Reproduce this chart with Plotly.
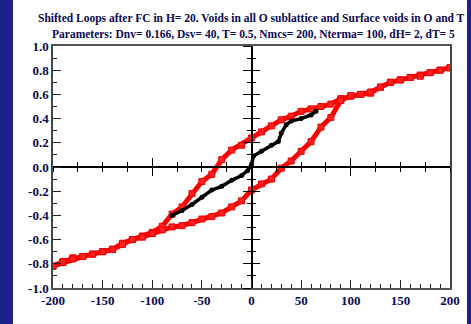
import plotly.graph_objects as go

# Red loop, descending branch: field swept from +200 down to -200
h_down = [200, 190, 180, 170, 160, 150, 140, 130, 120, 110, 100, 90, 80, 70, 60, 50,
          40, 30, 20, 10, 0, -10, -20, -30, -40, -50, -60, -70, -80, -90, -100,
          -110, -120, -130, -140, -150, -160, -170, -180, -190, -200]
m_down = [0.82, 0.80, 0.78, 0.76, 0.74, 0.72, 0.70, 0.66, 0.61, 0.60, 0.585, 0.565, 0.52,
          0.50, 0.48, 0.46, 0.42, 0.39, 0.34, 0.29, 0.24, 0.18, 0.14, 0.06, -0.06, -0.12,
          -0.22, -0.33, -0.39, -0.49, -0.54, -0.57, -0.60, -0.63, -0.68, -0.70, -0.72,
          -0.74, -0.75, -0.78, -0.82]

# Red loop, ascending branch: field swept from -200 up to +200
h_up = [-200, -190, -180, -170, -160, -150, -140, -130, -120, -110, -100, -90, -80, -70,
        -60, -50, -40, -30, -20, -10, 0, 10, 20, 30, 40, 50, 60, 70, 80, 90, 100, 110,
        120, 130, 140, 150, 160, 170, 180, 190, 200]
m_up = [-0.82, -0.79, -0.76, -0.74, -0.72, -0.70, -0.68, -0.64, -0.60, -0.58, -0.55,
        -0.52, -0.495, -0.485, -0.46, -0.43, -0.41, -0.38, -0.33, -0.28, -0.19, -0.14,
        -0.10, -0.01, 0.05, 0.13, 0.21, 0.33, 0.41, 0.55, 0.59, 0.60, 0.62, 0.66, 0.70,
        0.72, 0.74, 0.75, 0.78, 0.80, 0.82]

# Black curve
h_black = [-80, -70, -60, -50, -40, -30, -20, -10, -4, 0, 2, 10, 20, 27, 30, 35, 40, 50, 60, 65]
m_black = [-0.40, -0.36, -0.31, -0.25, -0.19, -0.16, -0.11, -0.07, -0.03, 0.02, 0.09, 0.13,
           0.18, 0.21, 0.28, 0.35, 0.38, 0.40, 0.43, 0.46]

x_tickvals = [-200, -150, -100, -50, 0, 50, 100, 150, 200]
x_ticktext = ["-200", "-150", "-100", "-50", "0", "50", "100", "150", "200"]
y_tickvals = [-1.0, -0.8, -0.6, -0.4, -0.2, 0.0, 0.2, 0.4, 0.6, 0.8, 1.0]
y_ticktext = ["-1.0", "-0.8", "-0.6", "-0.4", "-0.2", "0.0", "0.2", "0.4", "0.6", "0.8", "1.0"]

title_line1 = "Shifted Loops after FC in H= 20. Voids in all O sublattice and Surface voids in O and T"
title_line2 = "Parameters: Dnv= 0.166, Dsv= 40, T= 0.5, Nmcs= 200, Nterma= 100, dH= 2, dT= 5"

NAVY = "#0a0a55"
BLUE_BG = "#1e1e8c"
SERIF = "Liberation Serif"
X_RANGE = [-200, 200]
Y_RANGE = [-1, 1]

fig = go.Figure()

# empty traces so every axis pair gets drawn
fig.add_trace(go.Scatter(x=[None], y=[None], xaxis="x", yaxis="y",
                         showlegend=False, hoverinfo="skip"))
fig.add_trace(go.Scatter(x=[None], y=[None], xaxis="x2", yaxis="y2",
                         showlegend=False, hoverinfo="skip"))

fig.add_trace(go.Scatter(
    x=h_down + h_up, y=m_down + m_up, xaxis="x3", yaxis="y3",
    mode="lines+markers",
    line=dict(color="#ff0000", width=5),
    marker=dict(symbol="square", size=6, color="#ff2020",
                line=dict(color="#ee0000", width=1)),
    showlegend=False, hoverinfo="skip"))

fig.add_trace(go.Scatter(
    x=h_black, y=m_black, xaxis="x3", yaxis="y3",
    mode="lines+markers",
    line=dict(color="#000000", width=3.5),
    marker=dict(symbol="circle", size=5, color="#000000"),
    showlegend=False, hoverinfo="skip"))

tick_font = dict(family=SERIF, size=13, color=NAVY, weight="bold")

frame_x = dict(range=X_RANGE, showline=True, linecolor="#555555", linewidth=1.5, mirror=True,
               ticks="inside", ticklen=8, tickwidth=1.2, tickcolor="#222222",
               tickmode="array", tickvals=x_tickvals, ticktext=x_ticktext, tickfont=tick_font,
               minor=dict(tickmode="linear", tick0=0, dtick=10, ticklen=4, ticks="inside",
                          tickcolor="#222222", tickwidth=1.2),
               showgrid=False, zeroline=False, fixedrange=True)
frame_y = dict(range=Y_RANGE, showline=True, linecolor="#444444", linewidth=1.5, mirror=True,
               ticks="inside", ticklen=8, tickwidth=1.2, tickcolor="#222222",
               tickmode="array", tickvals=y_tickvals, ticktext=y_ticktext, tickfont=tick_font,
               minor=dict(tickmode="linear", tick0=0, dtick=0.1, ticklen=4, ticks="inside",
                          tickcolor="#222222", tickwidth=1.2),
               showgrid=False, zeroline=False, fixedrange=True)


def zero_x(tick_side):
    return dict(range=X_RANGE, overlaying="x", anchor="free", position=0.5, side="bottom",
                showline=True, linecolor="#000000", linewidth=1.5,
                ticks=tick_side, ticklen=8, tickwidth=1.2, tickcolor="#000000",
                tickmode="array", tickvals=[-100, 100], showticklabels=False,
                minor=dict(tickmode="linear", tick0=0, dtick=25, ticklen=4, ticks=tick_side,
                           tickcolor="#000000", tickwidth=1.2),
                showgrid=False, zeroline=False, fixedrange=True)


def zero_y(tick_side):
    return dict(range=Y_RANGE, overlaying="y", anchor="free", position=0.5, side="left",
                showline=True, linecolor="#000000", linewidth=1.5,
                ticks=tick_side, ticklen=8, tickwidth=1.2, tickcolor="#000000",
                tickmode="array", tickvals=y_tickvals, showticklabels=False,
                minor=dict(tickmode="linear", tick0=0, dtick=0.1, ticklen=4, ticks=tick_side,
                           tickcolor="#000000", tickwidth=1.2),
                showgrid=False, zeroline=False, fixedrange=True)


title_font = dict(family=SERIF, size=11.5, color=NAVY, weight="bold")

fig.update_layout(
    width=471, height=324,
    margin=dict(l=53, r=21, t=46, b=36, pad=0),
    paper_bgcolor=BLUE_BG, plot_bgcolor="#ffffff",
    xaxis=frame_x, yaxis=frame_y,
    xaxis2=zero_x("outside"), yaxis2=zero_y("outside"),
    xaxis3=zero_x("inside"), yaxis3=zero_y("inside"),
    shapes=[dict(type="rect", xref="paper", yref="paper",
                 x0=-0.1008, x1=1.0428, y0=-0.2, y1=1.25,
                 fillcolor="#ffffff", line=dict(width=0), layer="below")],
    annotations=[
        dict(text=title_line1, xref="paper", yref="paper", x=0.50, y=1.1116,
             xanchor="center", yanchor="middle", showarrow=False, font=title_font),
        dict(text=title_line2, xref="paper", yref="paper", x=0.504, y=1.0496,
             xanchor="center", yanchor="middle", showarrow=False, font=title_font),
    ],
    showlegend=False,
)

fig.write_html("out.html")
